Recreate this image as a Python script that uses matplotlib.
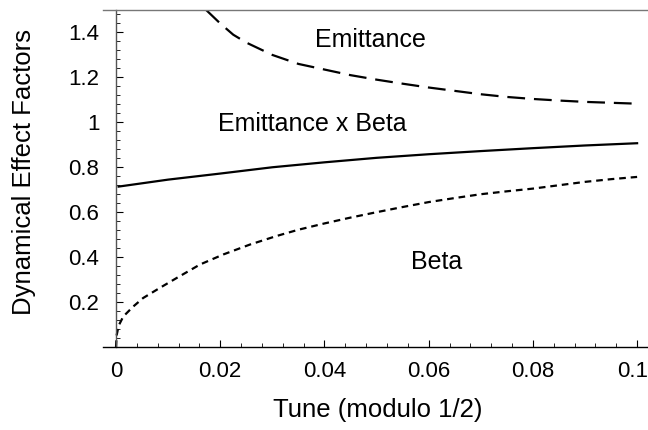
import numpy as np
import matplotlib.pyplot as plt
import matplotlib.transforms as mtransforms
from matplotlib.ticker import MultipleLocator, FixedLocator

plt.rcParams['font.family'] = ['Liberation Sans', 'DejaVu Sans']

# values
emit_tune = [0.0173, 0.020, 0.0225, 0.025, 0.030, 0.035, 0.040, 0.045, 0.050,
             0.055, 0.060, 0.065, 0.070, 0.075, 0.080, 0.085, 0.090, 0.095, 0.100]
emit_val = [1.50, 1.44, 1.39, 1.355, 1.30, 1.26, 1.235, 1.21, 1.19,
            1.172, 1.155, 1.14, 1.125, 1.113, 1.104, 1.097, 1.091, 1.087, 1.083]

prod_tune = [0.0005, 0.01, 0.02, 0.03, 0.04, 0.05, 0.06, 0.07, 0.08, 0.09, 0.10]
prod_val = [0.714, 0.745, 0.772, 0.800, 0.822, 0.842, 0.858, 0.872, 0.885, 0.897, 0.907]

beta_tune = [0.0, 0.0001, 0.0005, 0.0014, 0.0033, 0.0052, 0.0084, 0.0117, 0.0161,
             0.0206, 0.0257, 0.0308, 0.035, 0.040, 0.045, 0.050, 0.055, 0.060,
             0.065, 0.070, 0.075, 0.080, 0.085, 0.090, 0.095, 0.100]
beta_val = [0.0, 0.05, 0.095, 0.136, 0.18, 0.218, 0.263, 0.308, 0.367,
            0.412, 0.456, 0.494, 0.522, 0.55, 0.576, 0.60, 0.623, 0.645,
            0.663, 0.68, 0.693, 0.705, 0.72, 0.735, 0.747, 0.757]

x_ticks = [0, 0.02, 0.04, 0.06, 0.08, 0.1]
x_labels = ['0', '0.02', '0.04', '0.06', '0.08', '0.1']
y_ticks = [0.2, 0.4, 0.6, 0.8, 1.0, 1.2, 1.4]
y_labels = ['0.2', '0.4', '0.6', '0.8', '1', '1.2', '1.4']

fig = plt.figure(figsize=(6.48, 4.30), dpi=100)
ax = fig.add_axes([103/648, 83/430, 544/648, 337/430])

ax.plot(emit_tune, emit_val, color='black', lw=1.6, dashes=(8, 4))
ax.plot(prod_tune, prod_val, color='black', lw=1.6)
ax.plot(beta_tune, beta_val, color='black', lw=1.6, dashes=(3, 2.2))

ax.set_xlim(-0.0025, 0.1019)
ax.set_ylim(0, 1.5)

ax.spines['right'].set_visible(False)
ax.spines['top'].set_color('#777777')
ax.spines['left'].set_position(('data', 0))
ax.spines['left'].set_color('#555555')
for s in ['left', 'bottom', 'top']:
    ax.spines[s].set_linewidth(1.0)

ax.xaxis.set_major_locator(FixedLocator(x_ticks))
ax.xaxis.set_minor_locator(MultipleLocator(0.004))
ax.set_xticklabels(x_labels)
ax.yaxis.set_major_locator(FixedLocator(y_ticks))
ax.yaxis.set_minor_locator(MultipleLocator(0.04))
ax.set_yticklabels(y_labels)
ax.tick_params(which='both', direction='in', labelsize=16, top=False, right=False)
ax.tick_params(which='major', length=5, width=0.8, pad=12)
ax.tick_params(axis='x', which='major', pad=10)
ax.tick_params(which='minor', length=3, width=0.6)

# keep the last x label inside the figure
last = ax.get_xticklabels()[-1]
last.set_transform(last.get_transform() +
                   mtransforms.ScaledTranslation(-4/100, 0, fig.dpi_scale_trans))

ax.text(0.0488, 1.365, 'Emittance', fontsize=18, ha='center', va='center')
ax.text(0.0377, 0.993, 'Emittance x Beta', fontsize=18, ha='center', va='center')
ax.text(0.0616, 0.38, 'Beta', fontsize=18, ha='center', va='center')

fig.text(24/648, 1 - 172/430, 'Dynamical Effect Factors', rotation=90,
         fontsize=18.5, ha='center', va='center')
fig.text(378/648, 1 - 410/430, 'Tune (modulo 1/2)', fontsize=18.5,
         ha='center', va='center')

fig.savefig('out.png', dpi=100)
